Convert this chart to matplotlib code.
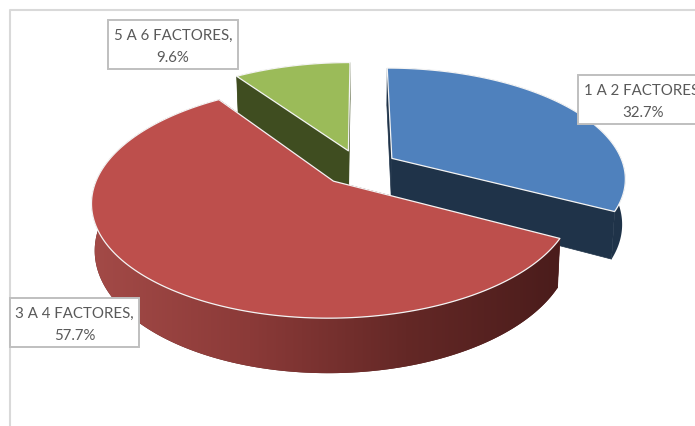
import numpy as np
import matplotlib
matplotlib.use("Agg")
import matplotlib.pyplot as plt
from matplotlib.patches import Polygon, Rectangle
from matplotlib.colors import LinearSegmentedColormap

categories = ["1 A 2 FACTORES", "3 A 4 FACTORES", "5 A 6 FACTORES"]
values = [32.7, 57.7, 9.6]
top_colors = ["#4f81bd", "#bd4f4c", "#9bbb59"]
side_colors = ["#1f3349", "#5a2321", "#3f4d20"]

# projection of the tilted disc, in pixels
CX, CY = 359.5, 168.5
A, B, K = 232.5, 108.5, 0.17
DEPTH = 44.5
BOTTOM_X = 0.988
EXPLODE = 0.165


def project(x, y, bottom=False):
    s = 1.0 / (1.0 + K * y)
    px = A * x * s
    py = CY - B * y * s
    if bottom:
        return CX + px * BOTTOM_X, py + DEPTH * s
    return CX + px, py


fig = plt.figure(figsize=(6.95, 4.27), dpi=100)
ax = fig.add_axes([0, 0, 1, 1])
ax.set_xlim(0, 695)
ax.set_ylim(427, 0)
ax.axis("off")

# chart frame, running off the right and bottom edges
ax.plot([10, 10, 700], [432, 11, 11], color="#d9d9d9", lw=1.5, zorder=0)

rim_cmap = LinearSegmentedColormap.from_list(
    "rim", ["#a34a47", "#8b3a38", "#642826", "#4a1c1b"])

fractions = np.array(values) / sum(values)
edges = np.concatenate([[0], np.cumsum(fractions)]) * 2 * np.pi

for order, i in enumerate([2, 0, 1]):
    t0, t1 = edges[i], edges[i + 1]
    mid = (t0 + t1) / 2
    ex, ey = EXPLODE * np.sin(mid), EXPLODE * np.cos(mid)
    th = np.linspace(t0, t1, 200)
    xs, ys = np.sin(th) + ex, np.cos(th) + ey
    z = 1 + order * 3

    top = np.array([project(x, y) for x, y in zip(xs, ys)])
    low = np.array([project(x, y, True) for x, y in zip(xs, ys)])
    apex_t = project(ex, ey)
    apex_b = project(ex, ey, True)

    # radial walls
    for e in (0, -1):
        ax.add_patch(Polygon([apex_t, top[e], low[e], apex_b], closed=True,
                             fc=side_colors[i], ec=side_colors[i], lw=0.5,
                             zorder=z))
    # outer wall, shaded left to right on the large slice
    wall = Polygon(np.vstack([top, low[::-1]]), closed=True,
                   fc=side_colors[i], ec="none", zorder=z)
    ax.add_patch(wall)
    if i == 1:
        ramp = np.linspace(0, 1, 256).reshape(1, -1)
        img = ax.imshow(ramp, cmap=rim_cmap, aspect="auto", zorder=z,
                        extent=(93, 563, 427, 0), interpolation="bilinear")
        img.set_clip_path(wall)
        ax.set_xlim(0, 695)
        ax.set_ylim(427, 0)
    # top face
    ax.add_patch(Polygon(np.vstack([[apex_t], top]), closed=True,
                         fc=top_colors[i], ec="#f4f4f4", lw=0.9,
                         joinstyle="round", zorder=z + 1))

# data labels
boxes = {0: (578, 76, 130, 49), 1: (10, 299, 129, 49), 2: (108, 21, 130, 49)}
for i, (x, y, w, h) in boxes.items():
    ax.add_patch(Rectangle((x, y), w, h, fc="white", ec="#bfbfbf", lw=1.4,
                           zorder=20))
    ax.text(x + w / 2, y + h / 2 + 1.5, f"{categories[i]},\n{values[i]:.1f}%",
            ha="center", va="center", family="Lato", fontsize=10.8,
            color="#595959", linespacing=1.72, zorder=21)

fig.savefig("out.png", dpi=100)
